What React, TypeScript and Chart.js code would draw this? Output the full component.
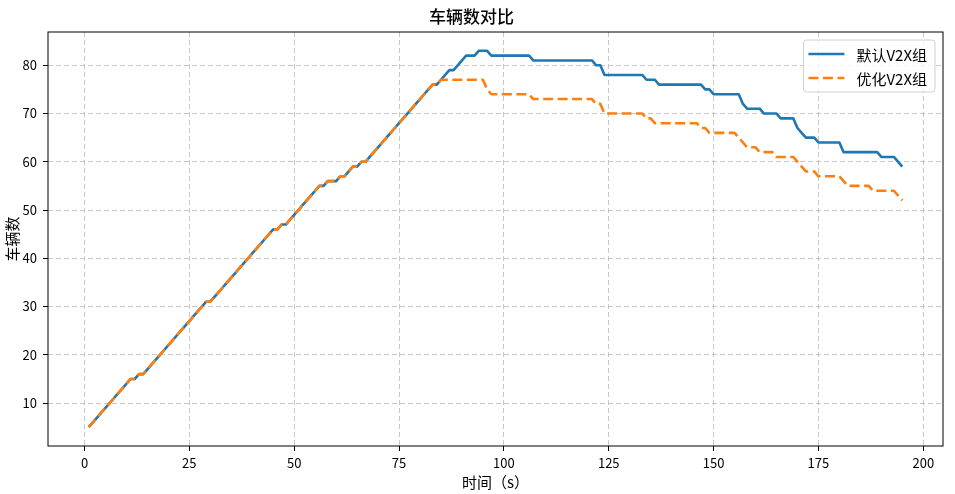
import { useEffect, useRef } from "react";
import { Chart, registerables } from "chart.js";

Chart.register(...registerables);

// vehicle counts per second, t = 1..195
const DEFAULT_V2X = [
  5, 6, 7, 8, 9, 10, 11, 12, 13, 14,
  15, 15, 16, 16, 17, 18, 19, 20, 21, 22,
  23, 24, 25, 26, 27, 28, 29, 30, 31, 31,
  32, 33, 34, 35, 36, 37, 38, 39, 40, 41,
  42, 43, 44, 45, 46, 46, 47, 47, 48, 49,
  50, 51, 52, 53, 54, 55, 55, 56, 56, 56,
  57, 57, 58, 59, 59, 60, 60, 61, 62, 63,
  64, 65, 66, 67, 68, 69, 70, 71, 72, 73,
  74, 75, 76, 76, 77, 78, 79, 79, 80, 81,
  82, 82, 82, 83, 83, 83, 82, 82, 82, 82,
  82, 82, 82, 82, 82, 82, 81, 81, 81, 81,
  81, 81, 81, 81, 81, 81, 81, 81, 81, 81,
  81, 80, 80, 78, 78, 78, 78, 78, 78, 78,
  78, 78, 78, 77, 77, 77, 76, 76, 76, 76,
  76, 76, 76, 76, 76, 76, 76, 75, 75, 74,
  74, 74, 74, 74, 74, 74, 72, 71, 71, 71,
  71, 70, 70, 70, 70, 69, 69, 69, 69, 67,
  66, 65, 65, 65, 64, 64, 64, 64, 64, 64,
  62, 62, 62, 62, 62, 62, 62, 62, 62, 61,
  61, 61, 61, 60, 59,
];

const OPTIMIZED_V2X = [
  5, 6, 7, 8, 9, 10, 11, 12, 13, 14,
  15, 15, 16, 16, 17, 18, 19, 20, 21, 22,
  23, 24, 25, 26, 27, 28, 29, 30, 31, 31,
  32, 33, 34, 35, 36, 37, 38, 39, 40, 41,
  42, 43, 44, 45, 46, 46, 47, 47, 48, 49,
  50, 51, 52, 53, 54, 55, 55, 56, 56, 56,
  57, 57, 58, 59, 59, 60, 60, 61, 62, 63,
  64, 65, 66, 67, 68, 69, 70, 71, 72, 73,
  74, 75, 76, 76, 77, 77, 77, 77, 77, 77,
  77, 77, 77, 77, 77, 75, 74, 74, 74, 74,
  74, 74, 74, 74, 74, 74, 73, 73, 73, 73,
  73, 73, 73, 73, 73, 73, 73, 73, 73, 73,
  73, 72, 72, 70, 70, 70, 70, 70, 70, 70,
  70, 70, 70, 69, 69, 68, 68, 68, 68, 68,
  68, 68, 68, 68, 68, 68, 67, 67, 66, 66,
  66, 66, 66, 66, 66, 65, 64, 63, 63, 63,
  62, 62, 62, 62, 61, 61, 61, 61, 61, 60,
  59, 58, 58, 58, 57, 57, 57, 57, 57, 57,
  56, 55, 55, 55, 55, 55, 55, 54, 54, 54,
  54, 54, 54, 53, 52,
];

const SECONDS = DEFAULT_V2X.map((_, i) => i + 1);

const SERIES_LABELS = ["默认V2X组", "优化V2X组"];
const TITLE = "车辆数对比";
const X_TITLE = "时间（s）";
const Y_TITLE = "车辆数";

const FONT = "'Noto Sans CJK SC', 'DejaVu Sans', sans-serif";

const frame = {
  id: "frame",
  afterDatasetsDraw(chart: any) {
    const { ctx, chartArea: a } = chart;
    ctx.save();
    ctx.strokeStyle = "#000";
    ctx.lineWidth = 1;
    ctx.strokeRect(a.left, a.top, a.right - a.left, a.bottom - a.top);
    ctx.restore();
  },
};

const boxLegend = {
  id: "boxLegend",
  afterDraw(chart: any) {
    const { ctx, chartArea: a } = chart;
    const sets = chart.data.datasets;
    ctx.save();
    ctx.font = `15px ${FONT}`;
    const textW = Math.max(...sets.map((d: any) => ctx.measureText(d.label).width));
    const w = 5 + 36 + 12 + textW + 8;
    const h = 52;
    const x = a.right - 8 - w;
    const y = a.top + 8;
    ctx.beginPath();
    ctx.roundRect(x, y, w, h, 3);
    ctx.fillStyle = "rgba(255,255,255,0.8)";
    ctx.fill();
    ctx.strokeStyle = "#d0d0d0";
    ctx.lineWidth = 1;
    ctx.stroke();
    sets.forEach((d: any, i: number) => {
      const cy = y + 14 + i * 24;
      ctx.beginPath();
      ctx.strokeStyle = d.borderColor;
      ctx.lineWidth = 2.6;
      ctx.setLineDash(d.borderDash || []);
      ctx.moveTo(x + 5, cy);
      ctx.lineTo(x + 41, cy);
      ctx.stroke();
      ctx.setLineDash([]);
      ctx.fillStyle = "#000";
      ctx.textBaseline = "middle";
      ctx.fillText(d.label, x + 53, cy + 1);
    });
    ctx.restore();
  },
};

export default function App() {
  const canvasRef = useRef<HTMLCanvasElement | null>(null);

  useEffect(() => {
    document.body.style.margin = "0";
    if (!canvasRef.current) return;
    const gridStyle = {
      color: "rgba(176,176,176,0.7)",
      lineWidth: 1,
      drawTicks: true,
      tickLength: 5,
      tickColor: "#000",
      tickWidth: 1,
      tickBorderDash: [],
    };
    const borderStyle = { display: false, dash: [5, 3] };
    const chart = new Chart(canvasRef.current, {
      type: "line",
      data: {
        datasets: [
          {
            label: SERIES_LABELS[0],
            data: SECONDS.map((t, i) => ({ x: t, y: DEFAULT_V2X[i] })),
            borderColor: "#1f77b4",
            borderWidth: 2.6,
            pointRadius: 0,
            borderJoinStyle: "round",
            order: 1,
          },
          {
            label: SERIES_LABELS[1],
            data: SECONDS.map((t, i) => ({ x: t, y: OPTIMIZED_V2X[i] })),
            borderColor: "#ff7f0e",
            borderWidth: 2.6,
            borderDash: [10, 4.5],
            pointRadius: 0,
            borderJoinStyle: "round",
            order: 0,
          },
        ],
      },
      options: {
        animation: false,
        responsive: false,
        layout: { padding: { left: 0, right: 12, top: 0, bottom: 0 } },
        plugins: {
          legend: { display: false },
          tooltip: { enabled: false },
          title: {
            display: true,
            text: TITLE,
            color: "#000",
            font: { family: FONT, size: 17, weight: "500" },
            padding: { top: 6, bottom: 5.6 },
          },
        },
        scales: {
          x: {
            type: "linear",
            min: -8.7,
            max: 204.7,
            border: borderStyle,
            grid: gridStyle,
            ticks: {
              stepSize: 25,
              includeBounds: false,
              color: "#000",
              padding: 4,
              maxRotation: 0,
              font: { family: FONT, size: 13 },
            },
            title: {
              display: true,
              text: X_TITLE,
              color: "#000",
              font: { family: FONT, size: 15 },
              padding: { top: 0, bottom: 3 },
            },
            afterFit(scale: any) {
              scale.height = 48;
            },
          },
          y: {
            min: 1.1,
            max: 86.9,
            border: borderStyle,
            grid: gridStyle,
            ticks: {
              stepSize: 10,
              includeBounds: false,
              color: "#000",
              padding: 6,
              font: { family: FONT, size: 13 },
            },
            title: {
              display: true,
              text: Y_TITLE,
              color: "#000",
              font: { family: FONT, size: 15 },
              padding: { top: 3, bottom: 0 },
            },
            afterFit(scale: any) {
              scale.width = 48;
            },
          },
        },
      },
      plugins: [frame, boxLegend],
    } as any);
    return () => chart.destroy();
  }, []);

  return (
    <div style={{ width: 955, height: 494, background: "#fff" }}>
      <canvas ref={canvasRef} width={955} height={494} />
    </div>
  );
}
